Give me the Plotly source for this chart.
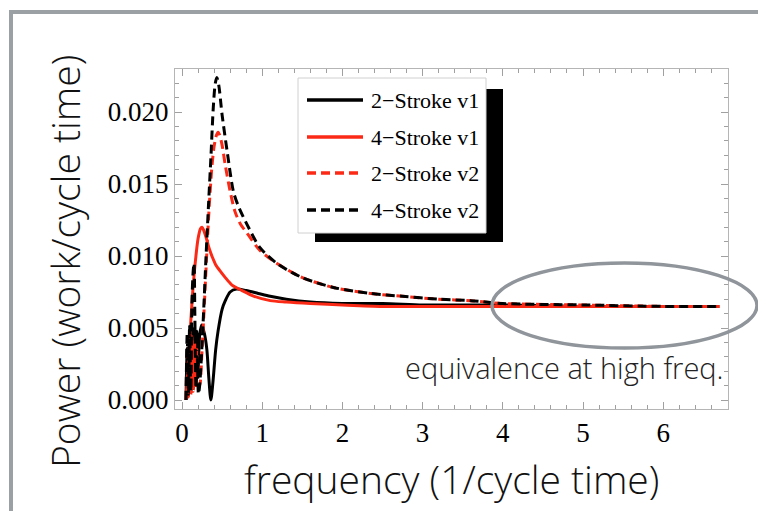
import plotly.graph_objects as go

# ---------------- data ----------------
series_names = ["2\u2212Stroke v1", "4\u2212Stroke v1", "2\u2212Stroke v2", "4\u2212Stroke v2"]

x_2s_v1 = [0.05, 0.065, 0.08, 0.095, 0.11, 0.125, 0.14, 0.155, 0.17, 0.185, 0.20, 0.22, 0.245,
           0.28, 0.31, 0.335, 0.36, 0.385, 0.42, 0.45, 0.50, 0.54, 0.60, 0.68, 0.80, 0.95, 1.10,
           1.30, 1.60, 2.0, 2.5, 3.0, 3.5, 4.0, 5.0, 6.0, 6.7]
y_2s_v1 = [0.0000, 0.0036, 0.0003, 0.0044, 0.0005, 0.0048, 0.0008, 0.0050, 0.0010, 0.0048,
           0.0020, 0.0045, 0.0052, 0.0046, 0.0035, 0.0015, 0.0000, 0.0012, 0.0035, 0.0048,
           0.0063, 0.0069, 0.0075, 0.0077, 0.0076, 0.0074, 0.0072, 0.0070, 0.0068, 0.0067,
           0.0067, 0.0066, 0.0066, 0.0066, 0.0065, 0.0065, 0.0065]

x_4s_v1 = [0.05, 0.08, 0.11, 0.14, 0.17, 0.20, 0.23, 0.25, 0.27, 0.30, 0.34, 0.38, 0.42, 0.47,
           0.54, 0.62, 0.75, 0.90, 1.10, 1.30, 1.60, 2.0, 2.5, 3.0, 4.0, 5.0, 6.0, 6.7]
y_4s_v1 = [0.0000, 0.0025, 0.0055, 0.0080, 0.0098, 0.0112, 0.0119, 0.0120, 0.0118, 0.0113,
           0.0105, 0.0099, 0.0094, 0.0090, 0.0085, 0.0080, 0.0076, 0.0072, 0.0069, 0.0068,
           0.0067, 0.0066, 0.0065, 0.0065, 0.0065, 0.0065, 0.0065, 0.0065]

x_2s_v2 = [0.05, 0.065, 0.08, 0.095, 0.11, 0.125, 0.14, 0.155, 0.17, 0.185, 0.20, 0.22, 0.25,
           0.28, 0.31, 0.34, 0.37, 0.40, 0.43, 0.45, 0.47, 0.50, 0.54, 0.60, 0.66, 0.73, 0.81,
           0.97, 1.18, 1.5, 1.9, 2.35, 2.75, 3.2, 3.6, 4.0, 5.0, 6.0, 6.7]
y_2s_v2 = [0.0000, 0.0032, 0.0002, 0.0040, 0.0004, 0.0044, 0.0006, 0.0042, 0.0010, 0.0035,
           0.0012, 0.0010, 0.0035, 0.0068, 0.0103, 0.0135, 0.0160, 0.0176, 0.0184, 0.0186,
           0.0184, 0.0177, 0.0163, 0.0145, 0.0131, 0.0122, 0.0116, 0.0104, 0.0095, 0.0085,
           0.0078, 0.0074, 0.0072, 0.0070, 0.0069, 0.0067, 0.0066, 0.0065, 0.0065]

x_4s_v2 = [0.05, 0.065, 0.08, 0.095, 0.11, 0.125, 0.14, 0.15, 0.16, 0.175, 0.19, 0.205, 0.22,
           0.26, 0.30, 0.33, 0.36, 0.39, 0.415, 0.435, 0.46, 0.50, 0.57, 0.64, 0.70, 0.81, 0.97,
           1.18, 1.5, 1.9, 2.35, 2.75, 3.2, 3.6, 4.0, 5.0, 6.0, 6.7]
y_4s_v2 = [0.0000, 0.0046, 0.0004, 0.0052, 0.0006, 0.0070, 0.0090, 0.0095, 0.0060, 0.0008,
           0.0030, 0.0004, 0.0010, 0.0050, 0.0100, 0.0135, 0.0168, 0.0203, 0.0220, 0.0224,
           0.0218, 0.0198, 0.0170, 0.0145, 0.0135, 0.0122, 0.0106, 0.0095, 0.0085, 0.0078,
           0.0074, 0.0072, 0.0070, 0.0069, 0.0067, 0.0066, 0.0065, 0.0065]

x_ticks = [0, 1, 2, 3, 4, 5, 6]
y_ticks = [0.000, 0.005, 0.010, 0.015, 0.020]

x_title = "frequency (1/cycle time)"
y_title = "Power (work/cycle time)"
note_text = "equivalence at high freq."

# ---------------- styling ----------------
RED = "#fb2a17"
BLACK = "#000000"
DASH = "9px,5px"
series_x = [x_2s_v1, x_4s_v1, x_2s_v2, x_4s_v2]
series_y = [y_2s_v1, y_4s_v1, y_2s_v2, y_4s_v2]
series_color = [BLACK, RED, RED, BLACK]
series_dash = ["solid", "solid", DASH, DASH]
TITLE_FONT = "Open Sans"

W, H = 758, 511
L, R, T, B = 175, 728, 69, 409


def px(x):
    return (x - L) / (R - L)


def py(y):
    return (B - y) / (B - T)


fig = go.Figure()
for xs, ys, c, d, n in zip(series_x, series_y, series_color, series_dash, series_names):
    fig.add_trace(go.Scatter(x=xs, y=ys, mode="lines", name=n,
                             line=dict(color=c, width=3, dash=d, shape="spline", smoothing=0.8),
                             showlegend=False))

shapes = []
annotations = []

# outer slide frame
shapes.append(dict(type="rect", xref="paper", yref="paper",
                   x0=px(11), x1=px(820), y0=py(600), y1=py(12),
                   line=dict(color="#9ba0a4", width=4), fillcolor="rgba(0,0,0,0)", layer="above"))

# legend shadow + box
shapes.append(dict(type="rect", xref="paper", yref="paper",
                   x0=px(315), x1=px(503), y0=py(242), y1=py(89),
                   line=dict(width=0), fillcolor="black", layer="above"))
shapes.append(dict(type="rect", xref="paper", yref="paper",
                   x0=px(298), x1=px(486), y0=py(233), y1=py(78),
                   line=dict(color="#d0d0d0", width=1), fillcolor="white", layer="above"))
leg_y = [100, 137, 173, 210]
for n, c, d, yy in zip(series_names, series_color, series_dash, leg_y):
    shapes.append(dict(type="line", xref="paper", yref="paper",
                       x0=px(307), x1=px(363), y0=py(yy), y1=py(yy),
                       line=dict(color=c, width=3.5, dash=d), layer="above"))
    annotations.append(dict(xref="paper", yref="paper", x=px(369), y=py(yy), text=n,
                            showarrow=False, xanchor="left", yanchor="middle",
                            font=dict(family="Liberation Serif", size=22, color="black")))

# ellipse highlight
shapes.append(dict(type="circle", xref="paper", yref="paper",
                   x0=px(492), x1=px(757), y0=py(348), y1=py(263),
                   line=dict(color="#8f959a", width=3.5), layer="above"))

# text annotations
annotations.append(dict(xref="paper", yref="paper", x=px(726), y=py(367), text=note_text,
                        showarrow=False, xanchor="right", yanchor="middle",
                        font=dict(family=TITLE_FONT, size=29, color="#222222", weight=300)))
annotations.append(dict(xref="paper", yref="paper", x=px(451), y=py(478), text=x_title,
                        showarrow=False, xanchor="center", yanchor="middle",
                        font=dict(family=TITLE_FONT, size=39, color="#111111", weight=300)))
annotations.append(dict(xref="paper", yref="paper", x=px(64), y=py(262), text=y_title,
                        showarrow=False, xanchor="center", yanchor="middle", textangle=-90,
                        font=dict(family=TITLE_FONT, size=39, color="#111111", weight=300)))

x0v = -7 / 80.2
x1v = x0v + (R - L) / 80.2
y_per = 0.005 / 72.0
y0v = -(B - 400) * y_per
y1v = y0v + (B - T) * y_per

fig.update_layout(
    width=W, height=H,
    margin=dict(l=L, r=W - R, t=T, b=H - B, autoexpand=False),
    paper_bgcolor="white", plot_bgcolor="white",
    shapes=shapes, annotations=annotations,
    showlegend=False,
    xaxis=dict(range=[x0v, x1v], tickvals=x_ticks, ticktext=[str(v) for v in x_ticks],
               showgrid=False, zeroline=False, showline=True, linecolor="#b5b5b5", linewidth=1,
               mirror="ticks", ticks="inside", ticklen=7, tickcolor="#a0a0a0", tickwidth=1,
               minor=dict(dtick=0.2, tick0=0, ticks="inside", ticklen=4, tickcolor="#a0a0a0", showgrid=False),
               tickfont=dict(family="Liberation Serif", size=27, color="black")),
    yaxis=dict(range=[y0v, y1v], tickvals=y_ticks, ticktext=["%.3f" % v for v in y_ticks],
               showgrid=False, zeroline=False, showline=True, linecolor="#b5b5b5", linewidth=1,
               mirror="ticks", ticks="inside", ticklen=7, tickcolor="#a0a0a0", tickwidth=1,
               minor=dict(dtick=0.001, tick0=0, ticks="inside", ticklen=4, tickcolor="#a0a0a0", showgrid=False),
               tickfont=dict(family="Liberation Serif", size=27, color="black")),
)

fig.write_html("out.html", config={"displayModeBar": False},
               post_script="document.body.style.margin='0';")
